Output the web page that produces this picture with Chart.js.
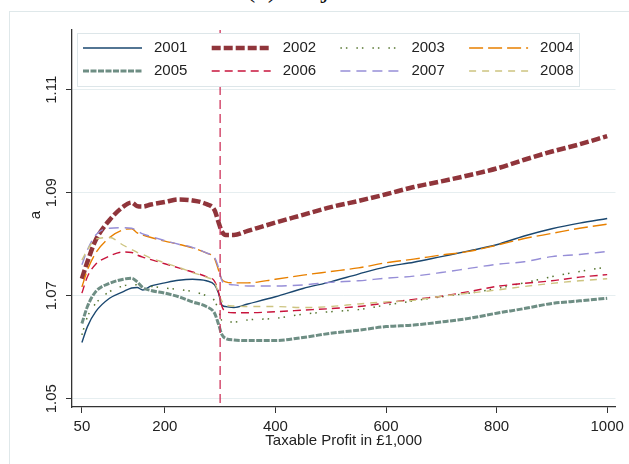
<!DOCTYPE html>
<html>
<head>
<meta charset="utf-8">
<title>a by taxable profit</title>
<script src="https://cdn.jsdelivr.net/npm/chart.js@4.4.1/dist/chart.umd.min.js"></script>
<style>
  html, body { margin: 0; padding: 0; background: #fff; }
  #wrap { position: relative; width: 629px; height: 464px; overflow: hidden; }
  #frame { position: absolute; left: 9px; top: 11px; width: 700px; height: 500px; border: 1px solid #dfe8ea; }
  #title { position: absolute; left: 246px; top: -26px; font: 28px/28px "Liberation Serif", serif; color: #111; white-space: nowrap; }
  canvas { position: absolute; left: 0; top: 0; }
</style>
</head>
<body>
<div id="wrap">
  <div id="frame"></div>
  <div id="title">(c) Major firms</div>
  <canvas id="chart" width="629" height="464"></canvas>
</div>
<script>
// taxable profit (in £1,000) at which each year's curve is sampled
const xValues = [50, 60, 75, 100, 125, 140, 150, 160, 175, 200, 225, 250, 275, 290, 297, 303,
                 310, 325, 350, 400, 450, 500, 550, 600, 650, 700, 750, 800, 850, 900, 950, 1000];

const a2001 = [1.0609, 1.0640, 1.0669, 1.0695, 1.0708, 1.0715, 1.0716, 1.0711, 1.0719, 1.0725, 1.0730, 1.0732, 1.0729, 1.0721, 1.0705, 1.0682,
               1.0679, 1.0677, 1.0684, 1.0698, 1.0714, 1.0727, 1.0742, 1.0756, 1.0765, 1.0776, 1.0787, 1.0799, 1.0816, 1.0830, 1.0841, 1.0850];
const a2002 = [1.0733, 1.0766, 1.0808, 1.0847, 1.0873, 1.0881, 1.0874, 1.0873, 1.0877, 1.0882, 1.0887, 1.0885, 1.0878, 1.0866, 1.0843, 1.0825,
               1.0818, 1.0818, 1.0826, 1.0842, 1.0857, 1.0872, 1.0884, 1.0897, 1.0911, 1.0922, 1.0934, 1.0947, 1.0964, 1.0980, 1.0994, 1.1010];
const a2003 = [1.0624, 1.0659, 1.0685, 1.0708, 1.0719, 1.0722, 1.0721, 1.0719, 1.0718, 1.0715, 1.0712, 1.0708, 1.0700, 1.0690, 1.0672, 1.0652,
               1.0649, 1.0649, 1.0653, 1.0656, 1.0664, 1.0669, 1.0673, 1.0682, 1.0690, 1.0698, 1.0705, 1.0714, 1.0725, 1.0737, 1.0747, 1.0756];
const a2004 = [1.0717, 1.0750, 1.0783, 1.0813, 1.0828, 1.0830, 1.0822, 1.0818, 1.0813, 1.0806, 1.0800, 1.0793, 1.0783, 1.0772, 1.0750, 1.0732,
               1.0727, 1.0725, 1.0725, 1.0732, 1.0740, 1.0747, 1.0754, 1.0764, 1.0771, 1.0779, 1.0786, 1.0798, 1.0811, 1.0821, 1.0831, 1.0839];
const a2005 = [1.0646, 1.0679, 1.0708, 1.0724, 1.0732, 1.0734, 1.0727, 1.0716, 1.0710, 1.0705, 1.0698, 1.0688, 1.0679, 1.0666, 1.0645, 1.0625,
               1.0617, 1.0614, 1.0613, 1.0613, 1.0619, 1.0627, 1.0633, 1.0640, 1.0643, 1.0649, 1.0656, 1.0666, 1.0675, 1.0685, 1.0690, 1.0695];
const a2006 = [1.0705, 1.0737, 1.0761, 1.0777, 1.0785, 1.0784, 1.0779, 1.0775, 1.0770, 1.0762, 1.0754, 1.0746, 1.0737, 1.0728, 1.0708, 1.0680,
               1.0669, 1.0667, 1.0667, 1.0669, 1.0672, 1.0675, 1.0679, 1.0686, 1.0693, 1.0699, 1.0708, 1.0718, 1.0724, 1.0729, 1.0736, 1.0741];
const a2007 = [1.0760, 1.0789, 1.0818, 1.0831, 1.0832, 1.0831, 1.0826, 1.0820, 1.0815, 1.0807, 1.0800, 1.0794, 1.0783, 1.0774, 1.0755, 1.0730,
               1.0724, 1.0721, 1.0719, 1.0719, 1.0721, 1.0726, 1.0729, 1.0734, 1.0738, 1.0745, 1.0753, 1.0761, 1.0766, 1.0776, 1.0780, 1.0786];
const a2008 = [1.0769, 1.0789, 1.0810, 1.0813, 1.0798, 1.0790, 1.0784, 1.0780, 1.0773, 1.0764, 1.0755, 1.0745, 1.0736, 1.0726, 1.0705, 1.0690,
               1.0682, 1.0680, 1.0679, 1.0679, 1.0677, 1.0679, 1.0684, 1.0688, 1.0691, 1.0699, 1.0705, 1.0711, 1.0718, 1.0724, 1.0729, 1.0733];

const years = ['2001', '2002', '2003', '2004', '2005', '2006', '2007', '2008'];
const seriesValues = [a2001, a2002, a2003, a2004, a2005, a2006, a2007, a2008];

const xTicks = [50, 200, 400, 600, 800, 1000];
const yTicks = [1.05, 1.07, 1.09, 1.11];
const yTickLabels = ['1.05', '1.07', '1.09', '1.11'];
const threshold = 300;

// Stata s2color-like line styles
const lineStyles = [
  { color: 'rgb(26,71,111)',   width: 1.4, dash: [] },
  { color: 'rgb(144,53,59)',   width: 4.5, dash: [9, 3] },
  { color: 'rgb(85,117,47)',   width: 1.5, dash: [1.5, 4, 1.5, 9] },
  { color: 'rgb(232,128,0)',   width: 1.4, dash: [14, 5] },
  { color: 'rgb(110,142,132)', width: 3,   dash: [6, 1.5] },
  { color: 'rgb(200,20,60)',   width: 1.4, dash: [8, 5] },
  { color: 'rgb(150,142,215)', width: 1.4, dash: [10, 6] },
  { color: 'rgb(205,196,128)', width: 1.4, dash: [7, 6] }
];

const FONT = '"Liberation Sans", Arial, sans-serif';

const datasets = seriesValues.map((vals, i) => ({
  label: years[i],
  data: xValues.map((x, j) => ({ x: x, y: vals[j] })),
  borderColor: lineStyles[i].color,
  borderWidth: lineStyles[i].width,
  borderDash: lineStyles[i].dash,
  pointRadius: 0,
  fill: false,
  cubicInterpolationMode: 'monotone',
  order: years.length - i
}));

// threshold line, in-plot legend box, rotated y labels and axis titles
const overlay = {
  id: 'overlay',
  afterDatasetsDraw(chart) {
    const { ctx, chartArea, scales } = chart;
    const tx = scales.x.getPixelForValue(threshold);
    ctx.save();
    ctx.strokeStyle = 'rgb(205,50,90)';
    ctx.lineWidth = 1.3;
    ctx.setLineDash([9, 5]);
    ctx.beginPath();
    ctx.moveTo(tx, chartArea.top);
    ctx.lineTo(tx, chartArea.bottom);
    ctx.stroke();
    ctx.restore();

    // legend box
    ctx.save();
    ctx.fillStyle = '#fff';
    ctx.fillRect(77, 33, 502, 53);
    ctx.strokeStyle = '#dde6e9';
    ctx.lineWidth = 1;
    ctx.strokeRect(77.5, 33.5, 502, 53);
    ctx.font = '15px ' + FONT;
    ctx.textBaseline = 'middle';
    ctx.textAlign = 'left';
    chart.data.datasets.forEach((ds, i) => {
      const col = i % 4, row = Math.floor(i / 4);
      const sx = 83 + col * 128.7;
      const sy = row === 0 ? 48 : 71;
      ctx.strokeStyle = ds.borderColor;
      ctx.lineWidth = ds.borderWidth;
      ctx.setLineDash(ds.borderDash);
      ctx.beginPath();
      ctx.moveTo(sx, sy);
      ctx.lineTo(sx + 59, sy);
      ctx.stroke();
      ctx.setLineDash([]);
      ctx.fillStyle = '#222';
      ctx.fillText(ds.label, sx + 71, sy);
    });
    ctx.restore();
  },
  afterDraw(chart) {
    const { ctx, chartArea, scales } = chart;
    const ys = scales.y;
    ctx.save();
    ctx.font = '15px ' + FONT;
    ctx.fillStyle = '#222';
    ctx.textAlign = 'center';
    ctx.textBaseline = 'middle';
    yTicks.forEach((v, i) => {
      ctx.save();
      ctx.translate(ys.right - 20, ys.getPixelForValue(v));
      ctx.rotate(-Math.PI / 2);
      ctx.fillText(yTickLabels[i], 0, 0);
      ctx.restore();
    });
    ctx.save();
    ctx.translate(ys.left + 36, 215);
    ctx.rotate(-Math.PI / 2);
    ctx.fillText('a', 0, 0);
    ctx.restore();
    ctx.fillText('Taxable Profit in £1,000', (chartArea.left + chartArea.right) / 2, 441);
    ctx.restore();
  }
};

new Chart(document.getElementById('chart'), {
  type: 'line',
  data: { datasets: datasets },
  options: {
    responsive: false,
    animation: false,
    layout: { padding: { top: 30, right: 9, left: 0, bottom: 0 } },
    plugins: { legend: { display: false }, tooltip: { enabled: false } },
    scales: {
      x: {
        type: 'linear',
        min: 32.1,
        max: 1015,
        afterBuildTicks: s => { s.ticks = xTicks.map(v => ({ value: v })); },
        afterFit: s => { s.height = 57; },
        grid: { drawOnChartArea: false, drawTicks: true, tickLength: 6, tickColor: '#333' },
        border: { color: '#333', width: 1.3 },
        ticks: { font: { family: FONT, size: 15 }, color: '#222', padding: 5, maxRotation: 0, callback: v => String(v) }
      },
      y: {
        type: 'linear',
        min: 1.04839,
        max: 1.1216,
        afterBuildTicks: s => { s.ticks = yTicks.map(v => ({ value: v })); },
        afterFit: s => { s.width = 72; },
        grid: { color: '#e6eef0', lineWidth: 1, drawTicks: true, tickLength: 6, tickColor: '#333' },
        border: { color: '#333', width: 1.3 },
        ticks: { display: false }
      }
    }
  },
  plugins: [overlay]
});
</script>
</body>
</html>
